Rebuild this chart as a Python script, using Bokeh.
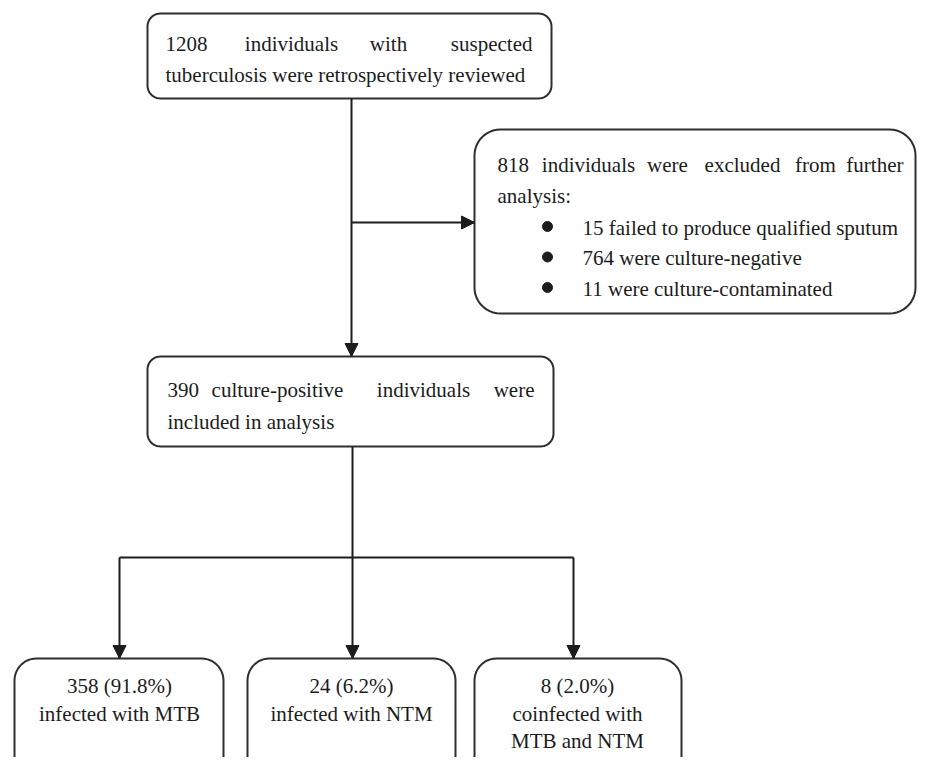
import numpy as np
from bokeh.plotting import figure
from bokeh.models import Range1d, Arrow, NormalHead, ColumnDataSource
from bokeh.core.properties import value
from bokeh.embed import file_html
from bokeh.resources import INLINE

# ---- content ----
box1_line1 = ["1208", "individuals", "with", "suspected"]
box1_line2 = "tuberculosis were retrospectively reviewed"
excl_line1 = ["818", "individuals", "were", "excluded", "from", "further"]
excl_line2 = "analysis:"
excl_items = ["15 failed to produce qualified sputum",
              "764 were culture-negative",
              "11 were culture-contaminated"]
box3_line1 = ["390", "culture-positive", "individuals", "were"]
box3_line2 = "included in analysis"
out_counts = ["358 (91.8%)", "24 (6.2%)", "8 (2.0%)"]
out_labels = [["infected with MTB"], ["infected with NTM"], ["coinfected with", "MTB and NTM"]]

FONT = value("Liberation Serif")
FS = "21px"
INK = "#1c1c1c"
EDGE = "#2e2e2e"

p = figure(width=917, height=757, output_backend="svg", toolbar_location=None,
           x_range=Range1d(0, 917), y_range=Range1d(757, 0),
           x_axis_location=None, y_axis_location=None, min_border=0)
p.grid.visible = False
p.outline_line_color = None


def rounded(x0, x1, y0, y1, r, n=12):
    xs, ys = [], []
    corners = [(x1 - r, y0 + r, -np.pi / 2, 0), (x1 - r, y1 - r, 0, np.pi / 2),
               (x0 + r, y1 - r, np.pi / 2, np.pi), (x0 + r, y0 + r, np.pi, 1.5 * np.pi)]
    for cx, cy, a0, a1 in corners:
        t = np.linspace(a0, a1, n)
        xs.extend(cx + r * np.cos(t))
        ys.extend(cy + r * np.sin(t))
    return xs, ys


boxes = [(147, 551, 13, 98, 13), (474, 915, 129, 313, 26), (147, 553, 356, 446, 13),
         (14, 223, 658, 820, 22), (247, 455, 658, 820, 22), (474, 681, 658, 820, 22)]
bx, by = [], []
for b in boxes:
    xs, ys = rounded(*b)
    bx.append(xs)
    by.append(ys)
p.patches(bx, by, fill_color="white", line_color=EDGE, line_width=2)

# connector lines
segs = [((351, 351), (98, 356)), ((351, 474), (222, 222)), ((352, 352), (446, 557)),
        ((119, 573), (557, 557)), ((119, 119), (557, 658)), ((352, 352), (557, 658)),
        ((573, 573), (557, 658))]
p.multi_line([s[0] for s in segs], [s[1] for s in segs], line_color=INK, line_width=2)
for (xa, xb), (ya, yb) in [s for i, s in enumerate(segs) if i in (0, 1, 4, 5, 6)]:
    p.add_layout(Arrow(end=NormalHead(size=13, fill_color=INK, line_color=INK, line_width=1),
                       x_start=xa, y_start=ya, x_end=xb, y_end=yb,
                       line_color=INK, line_width=2, line_alpha=0))

# text placement
X, Y, T, A = [], [], [], []


def put(x, y, t, a="left"):
    X.append(x); Y.append(y); T.append(t); A.append(a)


def justified(words, left, right, mids, y):
    put(left, y, words[0], "left")
    for w, m in zip(words[1:-1], mids):
        put(m, y, w, "center")
    put(right, y, words[-1], "right")


justified(box1_line1, 165, 532, [291, 388], 43)
put(165, 74, box1_line2)
justified(excl_line1, 497, 903, [588, 667, 742, 815], 164)
put(497, 195, excl_line2)
for i, item in enumerate(excl_items):
    put(582, 227 + 30.5 * i, item)
justified(box3_line1, 167, 534, [277, 423], 389)
put(167, 421, box3_line2)
for cx, c, labs in zip([119, 351, 577], out_counts, out_labels):
    put(cx, 685, c, "center")
    for j, l in enumerate(labs):
        put(cx, 713 + 27 * j, l, "center")

src = ColumnDataSource(dict(x=X, y=Y, text=T, align=A))
p.text("x", "y", text="text", source=src, text_align="align", text_baseline="alphabetic",
       text_font=FONT, text_font_size=FS, text_color=INK)

p.scatter([547] * 3, [226 + 30.5 * i for i in range(3)], size=10, marker="circle",
          fill_color=INK, line_color=INK)

open("out.html", "w").write(file_html(p, INLINE))
